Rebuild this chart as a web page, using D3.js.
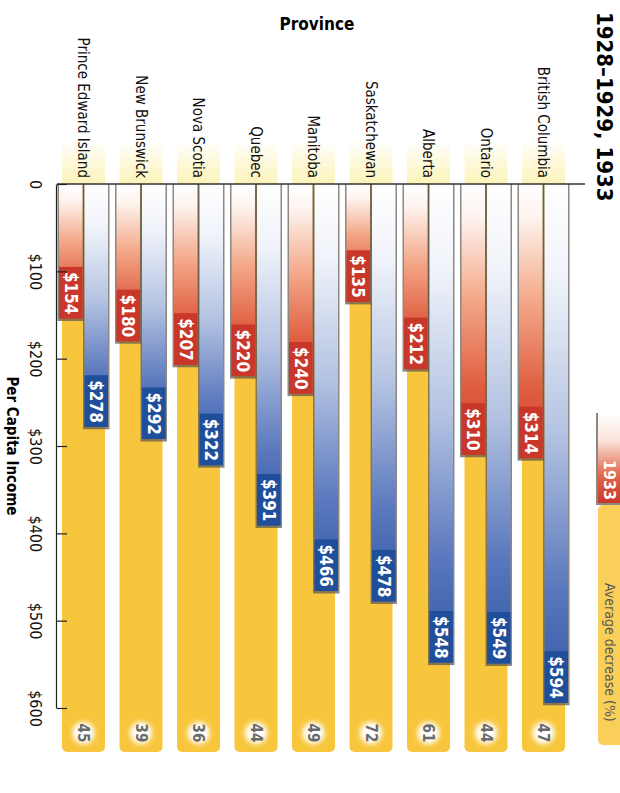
<!DOCTYPE html>
<html>
<head>
<meta charset="utf-8">
<script src="https://cdn.jsdelivr.net/npm/d3@7"></script>
<style>
  body { margin: 0; background: #fff; }
  svg { display: block; }
  text { font-family: "Liberation Sans Narrow", "DejaVu Sans Condensed", "Open Sans", sans-serif; }
</style>
</head>
<body>
<div id="chart"></div>
<script>
// data, ordered from the right edge of the picture to the left
const provinces = ["British Columbia", "Ontario", "Alberta", "Saskatchewan", "Manitoba",
    "Quebec", "Nova Scotia", "New Brunswick", "Prince Edward Island"];
const income1928 = [594, 549, 548, 478, 466, 391, 322, 292, 278];
const income1933 = [314, 310, 212, 135, 240, 220, 207, 180, 154];
const decreasePct = [47, 44, 61, 72, 49, 44, 36, 39, 45];
const seriesNames = ["1928–1929", "1933"];
const valueTicks = [0, 100, 200, 300, 400, 500, 600];

const W = 620, H = 793;

let svg = d3.select("#chart").append("svg")
    .attr("width", W)
    .attr("height", H);

let defs = svg.append("defs");

function grad(id, stops) {
    let g = defs.append("linearGradient").attr("id", id)
        .attr("x1", 0).attr("y1", 0).attr("x2", 1).attr("y2", 0);
    stops.forEach(s => g.append("stop").attr("offset", s[0]).attr("stop-color", s[1]));
}
grad("gRed", [[0, "#ffffff"], [0.12, "#fdf4ef"], [0.42, "#f4a98a"], [0.75, "#df5d40"], [1, "#cf3f2c"]]);
grad("gBlue", [[0, "#ffffff"], [0.18, "#f0f3fa"], [0.48, "#b4c3e2"], [0.78, "#5a78bd"], [1, "#2f57a3"]]);
grad("gPale", [[0, "#ffffff"], [1, "#fcf3b8"]]);
grad("gLegRed", [[0, "#ffffff"], [0.3, "#fbe4da"], [0.7, "#e06548"], [1, "#c8372a"]]);

defs.append("filter").attr("id", "glow")
    .attr("x", "-60%").attr("y", "-60%").attr("width", "220%").attr("height", "220%")
    .append("feGaussianBlur").attr("stdDeviation", 2.5);

// "Province" title stays upright at the top
svg.append("text")
    .attr("x", 317)
    .attr("y", 30)
    .attr("text-anchor", "middle")
    .style("font-size", "17px")
    .style("font-weight", "bold")
    .text("Province");

// whole chart is drawn as a horizontal bar chart and turned a quarter clockwise
let vis = svg.append("g")
    .attr("transform", "translate(" + W + ",0) rotate(90)");

// Scales
let x = d3.scaleLinear()
    .domain([0, 600])
    .range([184, 708]);

let y = d3.scaleBand()
    .domain(provinces)
    .range([52, 561])
    .paddingInner(0.148);

let ySub = d3.scaleBand()
    .domain(seriesNames)
    .range([0, y.bandwidth()])
    .paddingInner(0.08);

let rows = provinces.map((p, i) => ({
    name: p,
    values: [
        { series: seriesNames[0], value: income1928[i], fill: "url(#gBlue)", dark: "#1f4e9b" },
        { series: seriesNames[1], value: income1933[i], fill: "url(#gRed)", dark: "#c8372a" }
    ],
    pct: decreasePct[i]
}));

// yellow columns behind each province
let groups = vis.selectAll(".province")
    .data(rows)
    .enter().append("g")
    .attr("class", "province")
    .attr("transform", d => "translate(0," + y(d.name) + ")");

groups.append("rect")
    .attr("x", 140)
    .attr("y", 3)
    .attr("width", x(0) - 140)
    .attr("height", y.bandwidth() - 6)
    .attr("fill", "url(#gPale)");

groups.append("rect")
    .attr("x", x(0))
    .attr("y", 3)
    .attr("width", 752 - x(0))
    .attr("height", y.bandwidth() - 6)
    .attr("rx", 5)
    .attr("fill", "#f8c63c");

// bars
let bars = groups.selectAll(".bar")
    .data(d => d.values)
    .enter().append("g")
    .attr("class", "bar")
    .attr("transform", d => "translate(0," + ySub(d.series) + ")");

bars.append("rect")
    .attr("x", x(0))
    .attr("y", -1.5)
    .attr("width", d => x(d.value) - x(0) + 2.5)
    .attr("height", ySub.bandwidth() + 3)
    .attr("fill", "#5a5550")
    .attr("opacity", 0.7);

bars.append("rect")
    .attr("x", x(0))
    .attr("y", 0)
    .attr("width", d => x(d.value) - x(0))
    .attr("height", ySub.bandwidth())
    .attr("fill", d => d.fill);

bars.append("rect")
    .attr("class", "lbox")
    .attr("y", 0)
    .attr("height", ySub.bandwidth())
    .attr("fill", d => d.dark);

bars.append("text")
    .attr("x", d => x(d.value) - 4)
    .attr("y", ySub.bandwidth() / 2)
    .attr("dy", "0.36em")
    .attr("text-anchor", "end")
    .style("font-size", "17px")
    .style("font-weight", "bold")
    .style("fill", "#fff")
    .text(d => "$" + d.value)
    .each(function(d) {
        let len = this.getComputedTextLength();
        d3.select(this.parentNode).select(".lbox")
            .attr("x", x(d.value) - len - 9)
            .attr("width", len + 9);
    });

// average decrease markers
groups.append("circle")
    .attr("cx", 733)
    .attr("cy", y.bandwidth() / 2)
    .attr("r", 11)
    .attr("fill", "#fff")
    .attr("filter", "url(#glow)");

groups.append("text")
    .attr("x", 733)
    .attr("y", y.bandwidth() / 2)
    .attr("dy", "0.36em")
    .attr("text-anchor", "middle")
    .style("font-size", "15px")
    .style("font-weight", "bold")
    .style("fill", "#6a6a6a")
    .text(d => d.pct);

// province names
groups.append("text")
    .attr("x", 178)
    .attr("y", y.bandwidth() / 2)
    .attr("dy", "0.36em")
    .attr("text-anchor", "end")
    .style("font-size", "15px")
    .style("fill", "#111")
    .text(d => d.name);

// category baseline
vis.append("line")
    .attr("x1", x(0)).attr("x2", x(0))
    .attr("y1", 35).attr("y2", 563)
    .attr("stroke", "#333")
    .attr("stroke-width", 1.5);

// value axis
let xAxis = d3.axisBottom(x)
    .tickValues(valueTicks)
    .tickSizeInner(-10)
    .tickSizeOuter(0)
    .tickPadding(16)
    .tickFormat(d => d === 0 ? "0" : "$" + d);

let axisG = vis.append("g")
    .attr("class", "x-axis axis")
    .attr("transform", "translate(0,563)")
    .call(xAxis);

axisG.select(".domain").attr("stroke", "#222").attr("stroke-width", 1.2);
axisG.selectAll(".tick line").attr("stroke", "#222").attr("stroke-width", 1.2);
axisG.selectAll(".tick text")
    .style("font-size", "16px")
    .style("font-family", "'Liberation Sans Narrow', 'DejaVu Sans Condensed', sans-serif")
    .style("fill", "#111");

// axis title
vis.append("text")
    .attr("x", x(300))
    .attr("y", 608)
    .attr("dy", "0.36em")
    .attr("text-anchor", "middle")
    .style("font-size", "15px")
    .style("font-weight", "bold")
    .text("Per Capita Income");

vis.append("text")
    .attr("x", 12)
    .attr("y", 15)
    .attr("dy", "0.36em")
    .attr("text-anchor", "start")
    .style("font-size", "22px")
    .style("font-weight", "bold")
    .text("1928–1929, 1933");

// legend at the right edge
vis.append("rect")
    .attr("x", 505).attr("y", -4)
    .attr("width", 240).attr("height", 26)
    .attr("rx", 5)
    .attr("fill", "#f8c63c")
    .attr("opacity", 0.85);

vis.append("text")
    .attr("x", 583)
    .attr("y", 10)
    .attr("dy", "0.36em")
    .style("font-size", "14px")
    .style("fill", "#555")
    .text("Average decrease (%)");

vis.append("rect")
    .attr("x", 413).attr("y", -2)
    .attr("width", 92).attr("height", 26)
    .attr("fill", "#5a5550")
    .attr("opacity", 0.7);

vis.append("rect")
    .attr("x", 413).attr("y", 0)
    .attr("width", 90).attr("height", 22)
    .attr("fill", "url(#gLegRed)");

vis.append("text")
    .attr("x", 500)
    .attr("y", 10)
    .attr("dy", "0.36em")
    .attr("text-anchor", "end")
    .style("font-size", "16px")
    .style("font-weight", "bold")
    .style("fill", "#fff")
    .text("1933");
</script>
</body>
</html>
